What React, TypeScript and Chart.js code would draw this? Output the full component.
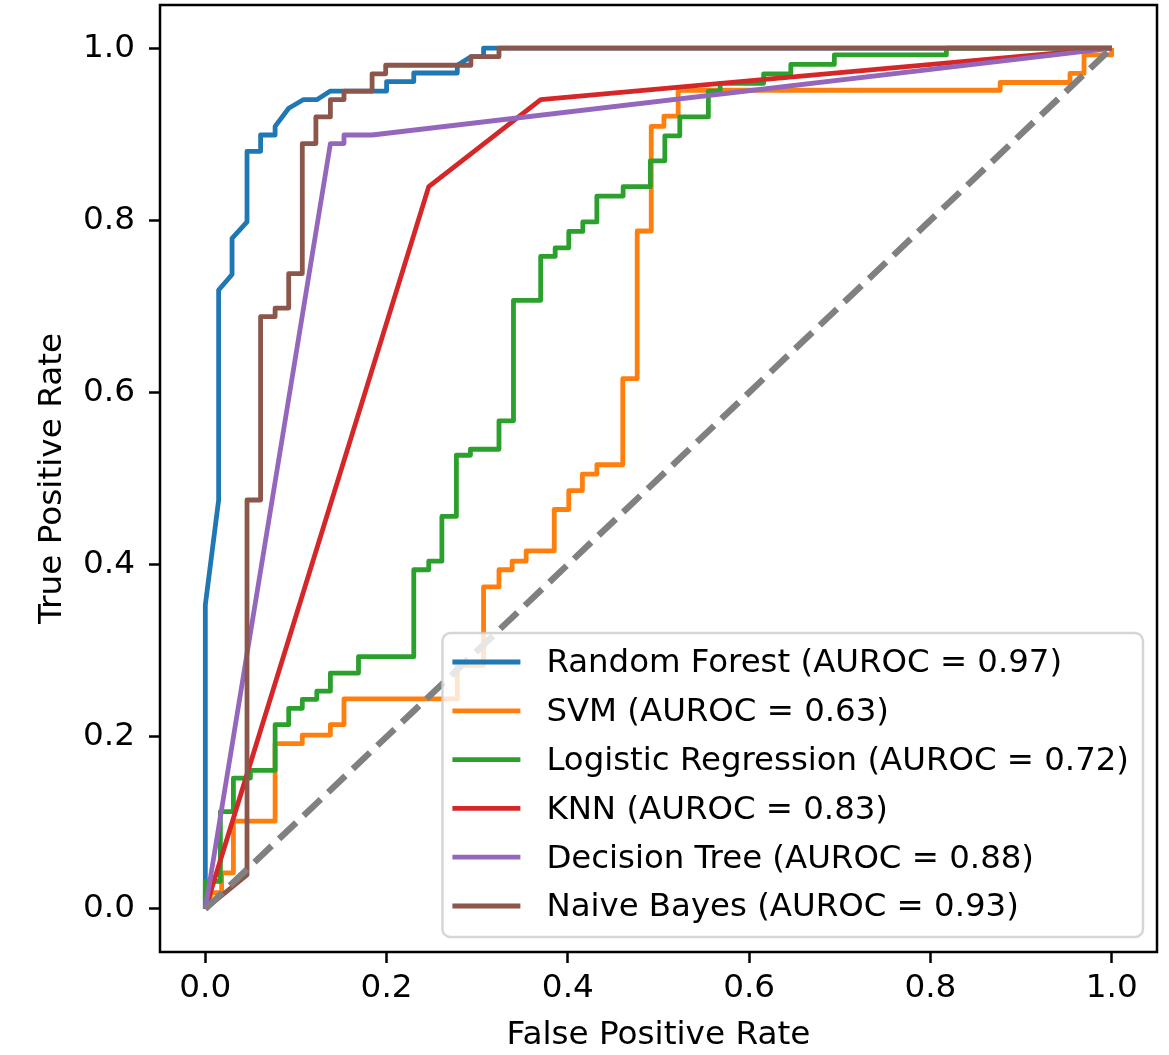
import React, { useEffect, useRef } from 'react';
import { Chart, registerables } from 'chart.js';

Chart.register(...registerables);

// ---- Data ----
const modelNames = ['Random Forest', 'SVM', 'Logistic Regression', 'KNN', 'Decision Tree', 'Naive Bayes'];
const aurocValues = [0.97, 0.63, 0.72, 0.83, 0.88, 0.93];
const modelColors = ['#1f77b4', '#ff7f0e', '#2ca02c', '#d62728', '#9467bd', '#8c564b'];

const rfFpr = [0, 0, 0.0147, 0.0147, 0.0295, 0.0295, 0.046, 0.046, 0.061, 0.061, 0.077, 0.077, 0.092, 0.108, 0.123, 0.138, 0.2, 0.2, 0.23, 0.23, 0.278, 0.278, 0.293, 0.307, 0.307, 1];
const rfTpr = [0, 0.353, 0.475, 0.719, 0.737, 0.779, 0.798, 0.88, 0.88, 0.899, 0.899, 0.909, 0.93, 0.94, 0.94, 0.95, 0.95, 0.961, 0.961, 0.971, 0.971, 0.98, 0.99, 0.99, 1, 1];

const svmFpr = [0, 0.0074, 0.018, 0.018, 0.031, 0.031, 0.077, 0.077, 0.107, 0.107, 0.138, 0.138, 0.153, 0.153, 0.278, 0.278, 0.307, 0.307, 0.324, 0.324, 0.3385, 0.3385, 0.354, 0.354, 0.385, 0.385, 0.401, 0.401, 0.416, 0.416, 0.432, 0.432, 0.4606, 0.4606, 0.4765, 0.4765, 0.492, 0.492, 0.506, 0.506, 0.5217, 0.5217, 0.877, 0.877, 0.954, 0.954, 0.9695, 0.9695, 1, 1];
const svmTpr = [0, 0.019, 0.019, 0.042, 0.042, 0.102, 0.102, 0.192, 0.192, 0.202, 0.202, 0.214, 0.214, 0.244, 0.244, 0.283, 0.283, 0.374, 0.374, 0.394, 0.394, 0.404, 0.404, 0.416, 0.416, 0.464, 0.464, 0.486, 0.486, 0.505, 0.505, 0.516, 0.516, 0.616, 0.616, 0.7875, 0.7875, 0.909, 0.909, 0.921, 0.921, 0.951, 0.951, 0.96, 0.96, 0.9705, 0.9705, 0.992, 0.992, 1];

const lrFpr = [0, 0, 0.0166, 0.0166, 0.031, 0.031, 0.0497, 0.0497, 0.077, 0.077, 0.092, 0.092, 0.107, 0.107, 0.123, 0.123, 0.138, 0.138, 0.169, 0.169, 0.23, 0.23, 0.2465, 0.2465, 0.261, 0.261, 0.277, 0.277, 0.2925, 0.2925, 0.324, 0.324, 0.34, 0.34, 0.37, 0.37, 0.386, 0.386, 0.401, 0.401, 0.4165, 0.4165, 0.432, 0.432, 0.461, 0.461, 0.491, 0.491, 0.507, 0.507, 0.5235, 0.5235, 0.555, 0.555, 0.568, 0.568, 0.616, 0.616, 0.646, 0.646, 0.694, 0.694, 0.8176, 0.8176, 1];
const lrTpr = [0, 0.032, 0.032, 0.113, 0.113, 0.152, 0.152, 0.161, 0.161, 0.214, 0.214, 0.233, 0.233, 0.2435, 0.2435, 0.253, 0.253, 0.274, 0.274, 0.293, 0.293, 0.394, 0.394, 0.404, 0.404, 0.456, 0.456, 0.527, 0.527, 0.534, 0.534, 0.567, 0.567, 0.707, 0.707, 0.758, 0.758, 0.768, 0.768, 0.787, 0.787, 0.798, 0.798, 0.828, 0.828, 0.839, 0.839, 0.869, 0.869, 0.898, 0.898, 0.92, 0.92, 0.95, 0.95, 0.959, 0.959, 0.97, 0.97, 0.981, 0.981, 0.992, 0.992, 1, 1];

const knnFpr = [0, 0.2465, 0.37, 1];
const knnTpr = [0, 0.839, 0.94, 1];

const dtFpr = [0, 0.138, 0.153, 0.153, 0.184, 1];
const dtTpr = [0, 0.889, 0.889, 0.899, 0.899, 1];

const nbFpr = [0, 0.046, 0.046, 0.061, 0.061, 0.077, 0.077, 0.092, 0.092, 0.107, 0.107, 0.122, 0.122, 0.138, 0.138, 0.153, 0.153, 0.184, 0.184, 0.199, 0.199, 0.293, 0.293, 0.324, 0.324, 1];
const nbTpr = [0, 0.0395, 0.475, 0.475, 0.688, 0.688, 0.698, 0.698, 0.738, 0.738, 0.889, 0.889, 0.92, 0.92, 0.94, 0.94, 0.95, 0.95, 0.97, 0.97, 0.98, 0.98, 0.99, 0.99, 1, 1];

const chanceFpr = [0, 1];
const chanceTpr = [0, 1];

const xTickValues = [0, 0.2, 0.4, 0.6, 0.8, 1.0];
const yTickValues = [0, 0.2, 0.4, 0.6, 0.8, 1.0];
const xAxisLabel = 'False Positive Rate';
const yAxisLabel = 'True Positive Rate';

const FONT = '"DejaVu Sans", sans-serif';
const FONT_SIZE = 32.7;
const LEGEND_FONT_SIZE = 32.4;

function zip(xs: number[], ys: number[]) {
  return xs.map((x, i) => ({ x, y: ys[i] }));
}

const curves = [
  [rfFpr, rfTpr],
  [svmFpr, svmTpr],
  [lrFpr, lrTpr],
  [knnFpr, knnTpr],
  [dtFpr, dtTpr],
  [nbFpr, nbTpr],
];

const mplFramePlugin = {
  id: 'mplFrame',
  afterDatasetsDraw(chart: any) {
    const { ctx, chartArea } = chart;
    ctx.save();
    // spines
    ctx.strokeStyle = '#000';
    ctx.lineWidth = 2.5;
    ctx.strokeRect(chartArea.left, chartArea.top, chartArea.right - chartArea.left, chartArea.bottom - chartArea.top);

    // legend (lower right)
    const items = chart.data.datasets.filter((d: any) => d.showInLegend);
    ctx.font = `${LEGEND_FONT_SIZE}px ${FONT}`;
    const maxW = Math.max(...items.map((d: any) => ctx.measureText(d.label).width));
    const right = chartArea.right - 14;
    const bottom = chartArea.bottom - 15;
    const rowH = 48.8;
    const w = maxW + 118;
    const h = 30 + rowH * (items.length - 1) + 30;
    const left = right - w;
    const top = bottom - h;
    ctx.beginPath();
    ctx.roundRect(left, top, w, h, 8);
    ctx.fillStyle = 'rgba(255,255,255,0.8)';
    ctx.fill();
    ctx.strokeStyle = 'rgba(204,204,204,0.8)';
    ctx.lineWidth = 2.5;
    ctx.stroke();
    items.forEach((d: any, i: number) => {
      const y = top + 29 + i * rowH;
      ctx.beginPath();
      ctx.moveTo(left + 10, y);
      ctx.lineTo(left + 78, y);
      ctx.strokeStyle = d.borderColor;
      ctx.lineWidth = 4.8;
      ctx.lineCap = 'butt';
      ctx.stroke();
      ctx.fillStyle = '#000';
      ctx.textBaseline = 'middle';
      ctx.textAlign = 'left';
      ctx.fillText(d.label, left + 104, y + 2);
    });
    ctx.restore();
  },
};

export default function App() {
  const canvasRef = useRef<HTMLCanvasElement | null>(null);

  useEffect(() => {
    const canvas = canvasRef.current;
    if (!canvas) return;
    const datasets: any[] = curves.map(([fx, ty], i) => ({
      label: `${modelNames[i]} (AUROC = ${aurocValues[i].toFixed(2)})`,
      showInLegend: true,
      data: zip(fx, ty),
      borderColor: modelColors[i],
      backgroundColor: modelColors[i],
      borderWidth: 4.8,
      pointRadius: 0,
      tension: 0,
      fill: false,
      borderJoinStyle: 'round',
      borderCapStyle: 'butt',
      order: 6 - i,
    }));
    datasets.push({
      label: '',
      showInLegend: false,
      data: zip(chanceFpr, chanceTpr),
      borderColor: '#808080',
      borderWidth: 6.4,
      borderDash: [23.7, 10.2],
      borderCapStyle: 'butt',
      pointRadius: 0,
      tension: 0,
      fill: false,
      order: -1,
    });

    const chart = new Chart(canvas, {
      type: 'line',
      data: { datasets },
      plugins: [mplFramePlugin],
      options: {
        animation: false,
        responsive: false,
        devicePixelRatio: 1,
        layout: { padding: { left: 0, right: 12, top: 5, bottom: 0 } },
        plugins: { legend: { display: false }, tooltip: { enabled: false } },
        scales: {
          x: {
            type: 'linear',
            min: -0.05,
            max: 1.05,
            afterBuildTicks: (scale: any) => {
              scale.ticks = xTickValues.map((v) => ({ value: v }));
            },
            afterFit: (scale: any) => {
              scale.height = 103;
              scale.paddingLeft = 0;
              scale.paddingRight = 0;
            },
            ticks: {
              callback: (v: any) => Number(v).toFixed(1),
              font: { family: FONT, size: FONT_SIZE },
              color: '#000',
              padding: 6,
              maxRotation: 0,
              autoSkip: false,
            },
            grid: {
              display: true,
              drawOnChartArea: false,
              drawTicks: true,
              tickLength: 11,
              tickWidth: 2.5,
              tickColor: '#000',
            },
            border: { display: false },
            title: {
              display: true,
              text: xAxisLabel,
              font: { family: FONT, size: FONT_SIZE },
              color: '#000',
              padding: { top: 0, bottom: 0 },
            },
          },
          y: {
            type: 'linear',
            min: -0.05,
            max: 1.05,
            afterBuildTicks: (scale: any) => {
              scale.ticks = yTickValues.map((v) => ({ value: v }));
            },
            afterFit: (scale: any) => {
              scale.width = 160;
              scale.paddingTop = 0;
              scale.paddingBottom = 0;
            },
            ticks: {
              callback: (v: any) => Number(v).toFixed(1),
              font: { family: FONT, size: FONT_SIZE },
              color: '#000',
              padding: 14,
              autoSkip: false,
            },
            grid: {
              display: true,
              drawOnChartArea: false,
              drawTicks: true,
              tickLength: 11,
              tickWidth: 2.5,
              tickColor: '#000',
            },
            border: { display: false },
            title: {
              display: true,
              text: yAxisLabel,
              font: { family: FONT, size: FONT_SIZE },
              color: '#000',
              padding: { top: 33, bottom: 0 },
            },
          },
        },
      } as any,
    });
    return () => chart.destroy();
  }, []);

  return (
    <div style={{ position: 'absolute', left: 0, top: 0, width: 1169, height: 1055, background: '#fff' }}>
      <canvas ref={canvasRef} width={1169} height={1055} style={{ width: 1169, height: 1055, display: 'block' }} />
    </div>
  );
}
